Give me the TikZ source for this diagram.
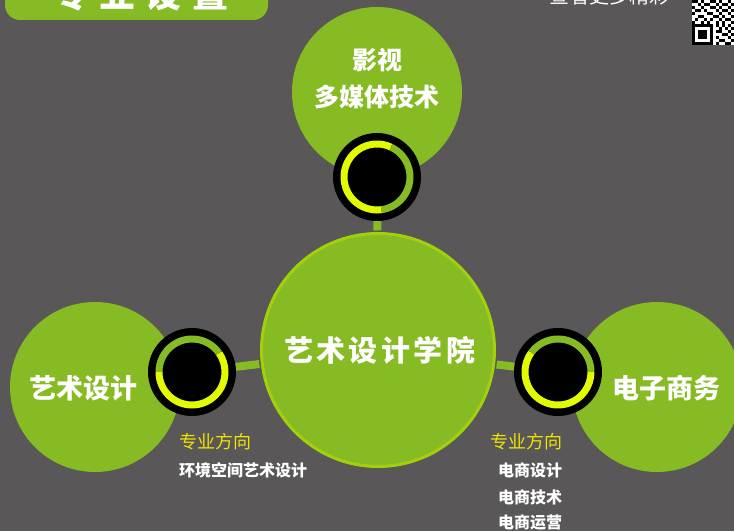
\documentclass[tikz,border=0pt]{standalone}
\usepackage{fontspec}
\setmainfont{Noto Sans CJK SC}
\newfontfamily\titlefont{Noto Sans CJK SC}[LetterSpace=29]
\newfontfamily\hubfont{Noto Sans CJK SC}[LetterSpace=12]

\definecolor{bgray}{HTML}{595758}
\definecolor{leaf}{HTML}{86BB23}
\definecolor{rim}{HTML}{A2D10C}
\definecolor{lemon}{HTML}{E2FB00}
\definecolor{gold}{HTML}{F0E300}

\tikzset{
	disc/.style={circle, fill=leaf, inner sep=0pt, minimum size=170pt},
	hub/.style={circle, fill=leaf, draw=rim, line width=3pt, inner sep=0pt, minimum size=233pt},
	eye/.style={circle, fill=black, inner sep=0pt, minimum size=88pt},
	link/.style={leaf, line width=8pt},
	ring/.style={line width=7pt},
	tag/.style={text=gold, font=\fontsize{18}{20}\selectfont},
	item/.style={text=white, font=\bfseries\fontsize{16}{18}\selectfont}
}

% ring arcs: node, start of yellow part, end of yellow part
\newcommand{\ringarcs}[3]{%
	\draw[ring, lemon] (#1.center) ++(#2:33) arc[start angle=#2, end angle=#3, radius=33];
	\draw[ring, leaf] (#1.center) ++(#3:33) arc[start angle=#3, end angle=#2+360, radius=33];
}

\begin{document}
\begin{tikzpicture}[x=1pt, y=1pt]
		\useasboundingbox (0,0) rectangle (734,531);
		\clip (0,0) rectangle (734,531);
		\fill[bgray] (0,0) rectangle (734,531);

		% header
		\fill[leaf, rounded corners=15pt] (5,511) rectangle (268,560);
		\node[anchor=base, text=white, font=\titlefont\bfseries\fontsize{36}{40}\selectfont] (title) at (140.5,523.5) {专业设置};
		\node[anchor=base, text=white, font=\fontsize{20}{22}\selectfont] (more) at (609,527.5) {查看更多精彩};

		% qr code
		\fill[white] (692,486) rectangle (734,531);
		\foreach \c/\r in {0/0,1/0,3/0,6/0,7/0,9/0,12/0,2/1,4/1,5/1,8/1,10/1,11/1,13/1,
				0/2,3/2,6/2,7/2,9/2,12/2,1/3,2/3,4/3,8/3,10/3,11/3,13/3,0/4,5/4,6/4,9/4,12/4,
				2/5,3/5,7/5,8/5,10/5,13/5,1/6,4/6,6/6,9/6,11/6,12/6,0/7,3/7,5/7,8/7,10/7,13/7,
				8/8,10/8,12/8,9/9,11/9,13/9,8/10,9/10,12/10,10/11,11/11,13/11,8/12,12/12,
				9/13,10/13,13/13,8/14,11/14,12/14}
			\fill[black] (692+3*\c,531-3*\r) rectangle ++(3,-3);
		\fill[black] (692,507) rectangle (713,486);
		\fill[white] (695,504) rectangle (710,489);
		\fill[black] (698,501) rectangle (707,492);

		% circles
		\node[disc] (film) at (377,439) {};
		\node[disc] (art) at (95,144) {};
		\node[disc] (shop) at (657,144) {};
		\node[hub, text=white, font=\hubfont\bfseries\fontsize{29}{32}\selectfont] (hub) at (378,181) {\hspace*{3.5pt}艺术设计学院};

		\node[text=white, align=center, font=\bfseries\fontsize{25}{37}\selectfont] (filmtext) at (377,452) {影视\\多媒体技术};
		\node[text=white, font=\bfseries\fontsize{27}{30}\selectfont] (arttext) at (84,143) {艺术设计};
		\node[text=white, font=\bfseries\fontsize{27}{30}\selectfont] (shoptext) at (666,143) {电子商务};

		% rings
		\node[eye] (ringT) at (377,354) {};
		\node[eye] (ringL) at (192,159) {};
		\node[eye] (ringR) at (558,159) {};

		\draw[link, shorten >=1.5pt] (ringT) -- (hub);
		\draw[link, shorten >=1.5pt] (ringL) -- (hub);
		\draw[link, shorten >=1.5pt] (ringR) -- (hub);

		\ringarcs{ringT}{65}{278}
		\ringarcs{ringL}{180}{395}
		\ringarcs{ringR}{144}{360}

		% majors
		\node[tag] (tagL) at (215,89) {专业方向};
		\node[item] (majorL) at (243,61) {环境空间艺术设计};

		\node[tag] (tagR) at (526,89) {专业方向};
		\foreach \t/\y in {电商设计/61, 电商技术/34, 电商运营/9}
			\node[item] (major\y) at (530,\y) {\t};
	\end{tikzpicture}
\end{document}
